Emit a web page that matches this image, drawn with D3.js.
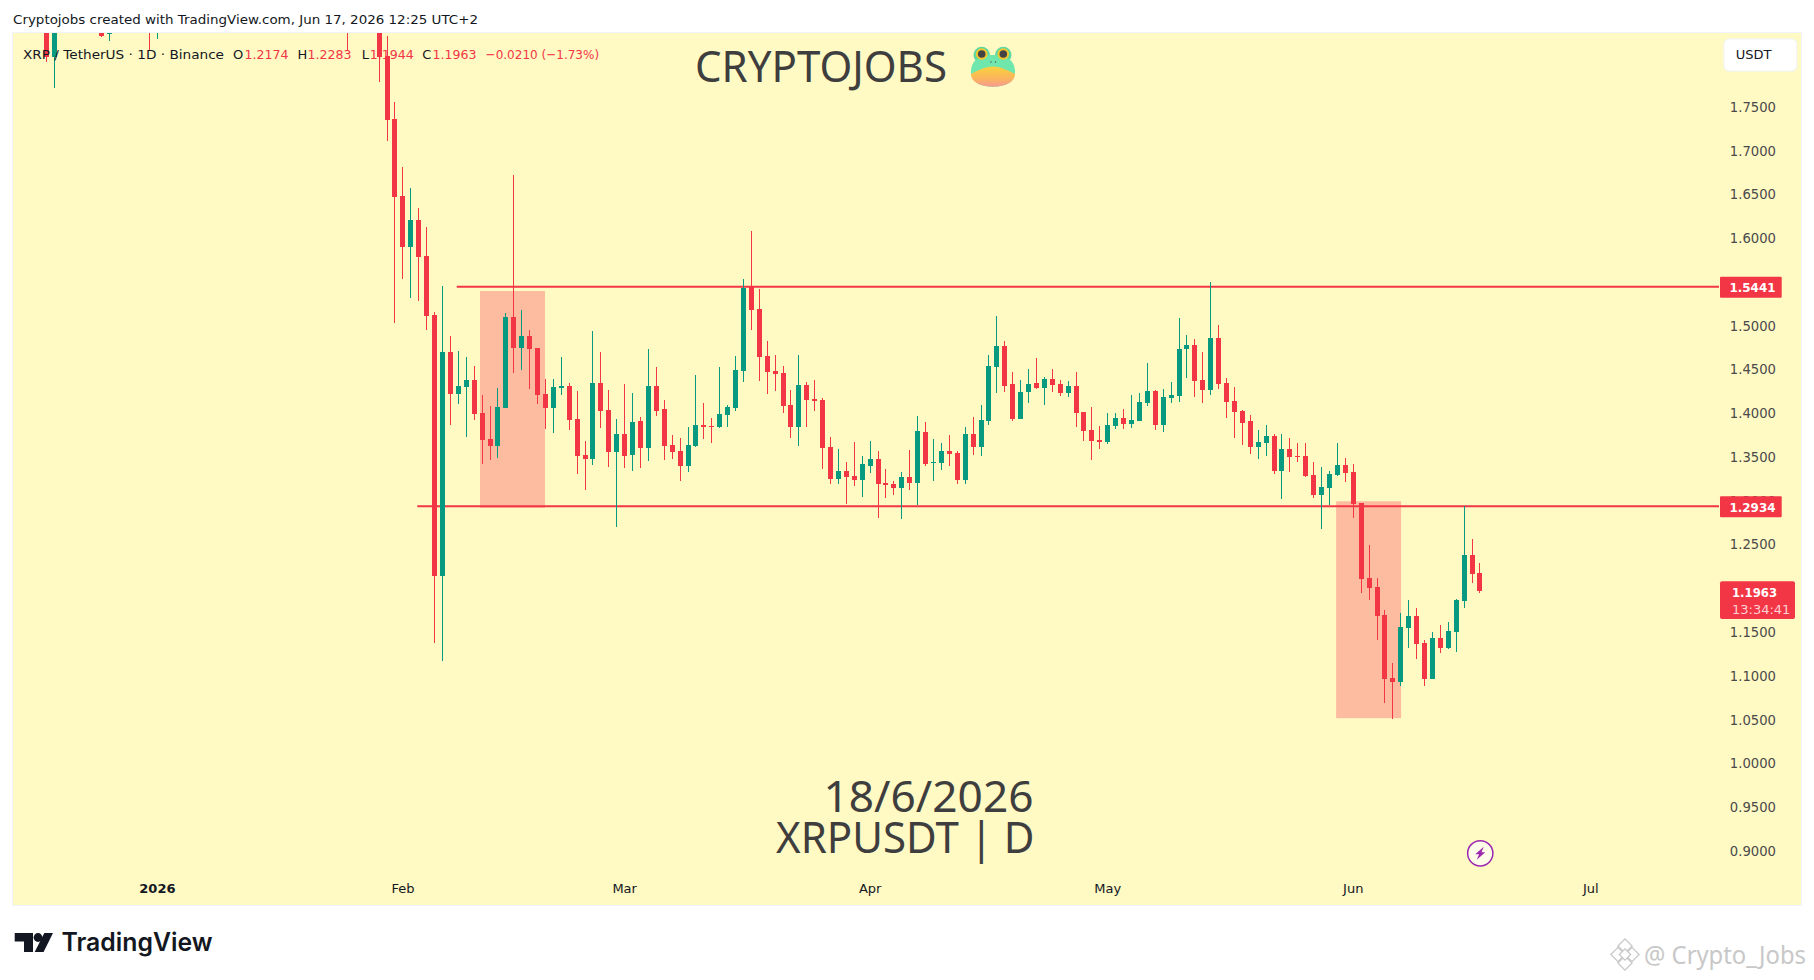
<!DOCTYPE html>
<html><head><meta charset="utf-8">
<script src="https://cdn.jsdelivr.net/npm/d3@7"></script>
<style>html,body{margin:0;padding:0;background:#fff;overflow:hidden}svg{display:block}text{font-family:"Noto Sans",sans-serif}</style>
</head><body><svg id="c" width="1814" height="980"></svg>
<script>
const earlyDays=[-45,-44,-38,-37,-32,-31,-7,-3,-2,-1];
const earlyOpen=[1.90,1.8070,1.8345,1.8326,1.87,1.84,1.88,1.90,1.8078,1.7358];
const earlyHigh=[1.92,1.90,1.84,1.86,1.88,1.87,1.89,1.92,1.83,1.7552];
const earlyLow=[1.8013,1.7712,1.8291,1.8253,1.8146,1.8272,1.8146,1.7784,1.7110,1.5030];
const earlyClose=[1.8070,1.88,1.8306,1.85,1.85,1.86,1.85,1.8070,1.7346,1.6470];

const openP=[1.6478,1.5899,1.6204,1.5792,1.5118,1.2134,1.4695,1.4215,1.4295,1.4375,
1.3998,1.3700,1.3620,1.4055,1.5095,1.4741,1.4878,1.4741,1.4215,1.4055,
1.4283,1.4306,1.3929,1.3517,1.3472,1.4341,1.4032,1.3552,1.3758,1.3517,
1.3906,1.3597,1.4306,1.4043,1.3632,1.3563,1.3392,1.3620,1.3860,1.3849,
1.3838,1.3975,1.4055,1.4478,1.5438,1.5186,1.4649,1.4478,1.4455,1.4089,
1.3838,1.4318,1.4158,1.4146,1.3609,1.3243,1.3335,1.3277,1.3232,1.3392,
1.3472,1.3197,1.3186,1.3140,1.3266,1.3197,1.3780,1.3426,1.3426,1.3563,
1.3540,1.3231,1.3757,1.3609,1.3906,1.4523,1.4763,1.4329,1.3929,1.4237,
1.4340,1.4283,1.4386,1.4329,1.4226,1.4306,1.4009,1.3803,1.3689,1.3666,
1.3849,1.3940,1.3872,1.3906,1.4112,1.4249,1.3860,1.4169,1.4192,1.4729,
1.4775,1.4375,1.4260,1.4855,1.4340,1.4135,1.4020,1.3906,1.3609,1.3654,
1.3734,1.3334,1.3586,1.3506,1.3506,1.3289,1.3060,1.3140,1.3289,1.3403,
1.3323,1.2968,1.2111,1.2008,1.1688,1.0968,1.0922,1.1539,1.1677,1.1368,
1.0956,1.1425,1.1311,1.1494,1.1848,1.2374,1.2174];
const highP=[1.6806,1.6570,1.6341,1.6124,1.5152,1.5449,1.4878,1.4706,1.4638,1.4535,
1.4203,1.4078,1.4283,1.5141,1.6718,1.5175,1.4946,1.4741,1.4386,1.4386,
1.4638,1.4341,1.4249,1.3678,1.4935,1.4695,1.4260,1.3929,1.4329,1.4226,
1.3952,1.4729,1.4523,1.4146,1.3746,1.3712,1.3838,1.4432,1.4112,1.3940,
1.4523,1.4089,1.4649,1.5529,1.6078,1.5415,1.4821,1.4661,1.4535,1.4260,
1.4661,1.4352,1.4375,1.4169,1.3723,1.3586,1.3437,1.3666,1.3506,1.3678,
1.3563,1.3357,1.3220,1.3323,1.3574,1.3963,1.3894,1.3700,1.3654,1.3746,
1.3563,1.3837,1.3952,1.4089,1.4660,1.5106,1.4820,1.4466,1.4375,1.4500,
1.4626,1.4409,1.4500,1.4375,1.4363,1.4466,1.4009,1.4066,1.3849,1.3997,
1.3997,1.4043,1.4203,1.4226,1.4569,1.4260,1.4272,1.4352,1.5083,1.4889,
1.4843,1.4695,1.5495,1.5003,1.4397,1.4295,1.4032,1.3974,1.3803,1.3860,
1.3757,1.3757,1.3712,1.3654,1.3654,1.3437,1.3380,1.3334,1.3654,1.3483,
1.3414,1.2968,1.2488,1.2111,1.1745,1.1139,1.1711,1.1859,1.1768,1.1402,
1.1494,1.1574,1.1608,1.1871,1.2934,1.2557,1.2283];
const lowP=[1.5529,1.5312,1.5278,1.4946,1.1368,1.1162,1.3860,1.4100,1.3723,1.3918,
1.3415,1.3460,1.3483,1.4055,1.4455,1.4489,1.4272,1.4100,1.3815,1.3769,
1.4203,1.3803,1.3300,1.3117,1.3403,1.3826,1.3380,1.2694,1.3369,1.3335,
1.3369,1.3449,1.3963,1.3460,1.3472,1.3220,1.3323,1.3609,1.3700,1.3655,
1.3826,1.3838,1.4020,1.4352,1.4946,1.4363,1.4215,1.4249,1.3998,1.3712,
1.3620,1.3838,1.4020,1.3357,1.3186,1.3186,1.2957,1.3163,1.3037,1.3312,
1.2797,1.3026,1.3060,1.2786,1.3117,1.2946,1.3392,1.3220,1.3346,1.3392,
1.3186,1.3186,1.3517,1.3506,1.3860,1.4226,1.4237,1.3906,1.3929,1.4112,
1.4272,1.4089,1.4237,1.4192,1.4180,1.3837,1.3677,1.3460,1.3586,1.3643,
1.3814,1.3814,1.3826,1.3906,1.4077,1.3803,1.3780,1.4112,1.4123,1.4397,
1.4180,1.4112,1.4203,1.4272,1.3940,1.3712,1.3632,1.3529,1.3472,1.3506,
1.3300,1.3014,1.3323,1.3437,1.3266,1.3026,1.2671,1.2946,1.3277,1.3209,
1.2797,1.1939,1.1859,1.1402,1.0682,1.0499,1.0876,1.1311,1.1185,1.0876,
1.0956,1.1254,1.1299,1.1265,1.1768,1.2054,1.1944];
const closeP=[1.5895,1.6204,1.5781,1.5110,1.2134,1.4695,1.4215,1.4306,1.4375,1.3986,
1.3689,1.3620,1.4066,1.5095,1.4741,1.4878,1.4729,1.4203,1.4055,1.4295,
1.4306,1.3918,1.3506,1.3472,1.4341,1.4020,1.3552,1.3758,1.3506,1.3895,
1.3597,1.4306,1.4020,1.3620,1.3552,1.3392,1.3632,1.3860,1.3838,1.3838,
1.3986,1.4066,1.4489,1.5426,1.5175,1.4638,1.4466,1.4443,1.4078,1.3838,
1.4318,1.4146,1.4135,1.3597,1.3243,1.3335,1.3266,1.3232,1.3415,1.3472,
1.3186,1.3175,1.3140,1.3266,1.3197,1.3792,1.3414,1.3437,1.3563,1.3529,
1.3231,1.3757,1.3609,1.3917,1.4535,1.4763,1.4306,1.3929,1.4237,1.4329,
1.4283,1.4386,1.4317,1.4226,1.4306,1.3997,1.3792,1.3677,1.3666,1.3860,
1.3940,1.3872,1.3917,1.4123,1.4249,1.3860,1.4180,1.4203,1.4729,1.4775,
1.4363,1.4260,1.4855,1.4329,1.4123,1.4009,1.3883,1.3609,1.3666,1.3734,
1.3334,1.3586,1.3494,1.3494,1.3277,1.3060,1.3151,1.3300,1.3403,1.3311,
1.2957,1.2099,1.1997,1.1677,1.0956,1.0922,1.1551,1.1677,1.1356,1.0956,
1.1425,1.1311,1.1505,1.1859,1.2374,1.2157,1.1963];

const priceTicks=[0.90,0.95,1.00,1.05,1.10,1.15,1.20,1.25,1.30,1.35,1.40,1.45,1.50,1.55,1.60,1.65,1.70,1.75];
const monthDays=[-31,0,28,59,89,120,150];
const monthLabels=["2026","Feb","Mar","Apr","May","Jun","Jul"];
const levels=[{p:1.5441,from:6.86,label:"1.5441"},{p:1.2934,from:1.88,label:"1.2934"}];
const zones=[{d0:9.8,d1:18,p0:1.5392,p1:1.2915},{d0:117.9,d1:126.1,p0:1.2991,p1:1.0514}];
const ohlcLegend=[["O","1.2174",233,244.4],["H","1.2283",297.4,307.6],["L","1.1944",361.8,369.7],["C","1.1963",422.3,432.6]];

const RED="#F23645",GREEN="#089981",BG="#FFF9C4",INK="#131722";
const L=13,R=1801,T=33,B=905,AXR=1719;
const days=earlyDays.concat(d3.range(openP.length));
const O=earlyOpen.concat(openP),H=earlyHigh.concat(highP),Lo=earlyLow.concat(lowP),C=earlyClose.concat(closeP);
const bars=days.map((d,i)=>({d,o:O[i],h:H[i],l:Lo[i],c:C[i]}));

const x=d3.scaleLinear().domain([-49.17,176.6]).range([L,R]);
const y=d3.scaleLinear().domain([1.75,0.90]).range([106.5,850.7]);
const svg=d3.select("#c");

svg.append("rect").attr("x",L-1).attr("y",T-1).attr("width",R-L+2).attr("height",B-T+2).attr("fill","#F0F3FA");
svg.append("rect").attr("x",L).attr("y",T).attr("width",R-L).attr("height",B-T).attr("fill",BG);
svg.append("defs").append("clipPath").attr("id","pane").append("rect").attr("x",L).attr("y",T).attr("width",R-L).attr("height",B-T);
const pane=svg.append("g").attr("clip-path","url(#pane)");

pane.selectAll("rect.zone").data(zones).join("rect").attr("class","zone")
 .attr("x",z=>x(z.d0)).attr("width",z=>x(z.d1)-x(z.d0))
 .attr("y",z=>y(z.p0)).attr("height",z=>y(z.p1)-y(z.p0)).attr("fill","#FDBBA0");

pane.selectAll("line.level").data(levels).join("line").attr("class","level")
 .attr("x1",l=>x(l.from)).attr("x2",AXR).attr("y1",l=>y(l.p)).attr("y2",l=>y(l.p))
 .attr("stroke",RED).attr("stroke-width",2);

const cx=d=>Math.round(x(d));
const g=pane.append("g").attr("shape-rendering","crispEdges");
g.selectAll("rect.wick").data(bars).join("rect").attr("class","wick")
 .attr("x",b=>cx(b.d)-0.5).attr("width",1)
 .attr("y",b=>y(b.h)).attr("height",b=>y(b.l)-y(b.h))
 .attr("fill",b=>b.c>=b.o?GREEN:RED);
g.selectAll("rect.body").data(bars).join("rect").attr("class","body")
 .attr("x",b=>cx(b.d)-2.5).attr("width",5)
 .attr("y",b=>y(Math.max(b.o,b.c))).attr("height",b=>Math.max(1,Math.abs(y(b.o)-y(b.c))))
 .attr("fill",b=>b.c>=b.o?GREEN:RED);

// price axis
const yAxis=d3.axisRight(y).tickValues(priceTicks).tickSize(0).tickPadding(0).tickFormat(d3.format(".4f"));
const ya=svg.append("g").attr("transform","translate(1776,0.5)").call(yAxis);
ya.select(".domain").remove();
ya.selectAll("text").attr("text-anchor","end").attr("fill","#4A4A4A").attr("font-size",13.2)
  .style("font-family","'DejaVu Sans'");

// time axis
const xAxis=d3.axisBottom(x).tickValues(monthDays).tickSize(0).tickPadding(0).tickFormat((d,i)=>monthLabels[i]);
const xa=svg.append("g").attr("transform","translate(0,884)").call(xAxis);
xa.select(".domain").remove();
xa.selectAll("text").attr("fill",INK).attr("font-size",13).style("font-family","'DejaVu Sans'")
  .style("font-weight",(d,i)=>i===0?700:400);

// level tags
levels.forEach(l=>{
  svg.append("rect").attr("x",1720).attr("y",y(l.p)-10).attr("width",61.7).attr("height",21).attr("fill",RED).attr("rx",1);
  svg.append("text").text(l.label).attr("x",1775.5).attr("y",y(l.p)+1).attr("dy","0.35em").attr("text-anchor","end")
   .attr("fill","#fff").attr("font-size",13).style("font-family","'DejaVu Sans'").style("font-weight",700)
   .attr("textLength",46).attr("lengthAdjust","spacingAndGlyphs");
});
// current price tag
const lastClose=closeP[closeP.length-1];
svg.append("rect").attr("x",1720).attr("y",581.3).attr("width",75).attr("height",37.7).attr("fill",RED).attr("rx",2);
svg.append("text").text(lastClose.toFixed(4)).attr("x",1732).attr("y",592.5).attr("dy","0.35em").attr("fill","#fff").attr("font-size",13).style("font-family","'DejaVu Sans'").style("font-weight",700).attr("textLength",45).attr("lengthAdjust","spacingAndGlyphs");
svg.append("text").text("13:34:41").attr("x",1732).attr("y",609.5).attr("dy","0.35em").attr("fill","#FFD0D4").attr("font-size",13).style("font-family","'DejaVu Sans'");

// currency button
svg.append("rect").attr("x",1724).attr("y",39).attr("width",72.7).attr("height",32).attr("rx",5).attr("fill","#fff").attr("stroke","#F0F3FA");
svg.append("text").text("USDT").attr("x",1735.7).attr("y",54.5).attr("dy","0.35em").attr("fill",INK).attr("font-size",13).style("font-family","'DejaVu Sans'");

// header
svg.append("text").text("Cryptojobs created with TradingView.com, Jun 17, 2026 12:25 UTC+2")
 .attr("x",13).attr("y",24).attr("fill",INK).attr("font-size",13).style("font-family","'DejaVu Sans'").attr("textLength",465).attr("lengthAdjust","spacingAndGlyphs");

// legend
svg.append("text").text("XRP / TetherUS · 1D · Binance").attr("x",23).attr("y",58.5).attr("fill",INK).attr("font-size",13).style("font-family","'DejaVu Sans'").attr("textLength",201).attr("lengthAdjust","spacingAndGlyphs");
ohlcLegend.forEach(([k,v,kx,vx])=>{
  svg.append("text").text(k).attr("x",kx).attr("y",58.5).attr("fill",INK).attr("font-size",13).style("font-family","'DejaVu Sans'");
  svg.append("text").text(v).attr("x",vx).attr("y",58.5).attr("fill",RED).attr("font-size",13).style("font-family","'DejaVu Sans'").attr("textLength",44).attr("lengthAdjust","spacingAndGlyphs");
});
svg.append("text").text("−0.0210 (−1.73%)").attr("x",485.6).attr("y",58.5).attr("fill",RED).attr("font-size",13).style("font-family","'DejaVu Sans'").attr("textLength",113.5).attr("lengthAdjust","spacingAndGlyphs");

// watermarks
const wm=(t,xx,yy,anchor,len)=>svg.append("text").text(t).attr("x",xx).attr("y",yy).attr("text-anchor",anchor)
 .attr("fill","#3E3E3E").attr("font-size",44).attr("textLength",len).attr("lengthAdjust","spacingAndGlyphs").style("font-family","'Noto Sans'");
wm("CRYPTOJOBS",695,81.7,"start",252);
wm("18/6/2026",1033.5,811.7,"end",210);
wm("XRPUSDT | D",1034.5,852.7,"end",258.5);

// frog
const frog=svg.append("g");
const grad=svg.select("defs").append("linearGradient").attr("id","belly").attr("x1",0).attr("y1",0).attr("x2",0).attr("y2",1);
grad.append("stop").attr("offset",0).attr("stop-color","#F8D23E");
grad.append("stop").attr("offset",0.6).attr("stop-color","#FBB45C");
grad.append("stop").attr("offset",1).attr("stop-color","#F59A94");
frog.append("circle").attr("cx",981.7).attr("cy",55).attr("r",8.2).attr("fill","#5ED8A0");
frog.append("circle").attr("cx",1003.3).attr("cy",55).attr("r",8.2).attr("fill","#5ED8A0");
frog.append("path").attr("d","M971 72 C971 60 980 55 993 55 C1006 55 1015 60 1015 72 C1015 82 1006 86.7 993 86.7 C980 86.7 971 82 971 72Z").attr("fill","#6EE6AC");
frog.append("path").attr("d","M971 74 C977 71 985 66.5 993 66.5 C1001 66.5 1009 71 1015 74 C1015 82 1006 86.7 993 86.7 C980 86.7 971 82 971 74Z").attr("fill","url(#belly)");
[981.7,1003.3].forEach(cxx=>{
  frog.append("circle").attr("cx",cxx).attr("cy",54).attr("r",5.8).attr("fill","#F6C62C");
  frog.append("circle").attr("cx",cxx).attr("cy",54).attr("r",3.8).attr("fill","#444");
});
frog.append("circle").attr("cx",991).attr("cy",62).attr("r",0.7).attr("fill","#555");
frog.append("circle").attr("cx",995.5).attr("cy",62).attr("r",0.7).attr("fill","#555");

// lightning marker
const bolt=svg.append("g").attr("transform",`translate(${x(136.1)},853.3)`);
bolt.append("circle").attr("r",12.6).attr("fill","#FFFDE8").attr("stroke","#9C27B0").attr("stroke-width",1.5);
bolt.append("path").attr("d","M3.5 -6.5 L-5 1 L-1.2 1 L-3.5 6.5 L5 -1 L1.2 -1Z").attr("fill","#9C27B0");

// TradingView logo
const tv=svg.append("g").attr("fill",INK);
tv.append("path").attr("d","M14.7 933 H33 V952 H24 V941.5 H14.7Z");
tv.append("circle").attr("cx",38).attr("cy",937.5).attr("r",4.4);
tv.append("path").attr("d","M44.3 933 H53 L43.6 952 H34.7Z");
svg.append("text").text("TradingView").attr("x",61.5).attr("y",950.7).attr("fill",INK).attr("font-size",25).attr("textLength",151).attr("lengthAdjust","spacingAndGlyphs").style("font-family","Inter").style("font-weight",600);

// Binance-style credit
const cr=svg.append("g").attr("fill","#fff").attr("stroke","#C8C8C8").attr("stroke-width",1.3);
[[1625,946,5],[1618,954.5,5],[1632,954.5,5],[1625,963,5],[1625,954.5,4]].forEach(([a,b,s])=>{
  cr.append("rect").attr("x",a-s).attr("y",b-s).attr("width",2*s).attr("height",2*s).attr("transform",`rotate(45 ${a} ${b})`);
});
svg.append("text").text("@ Crypto_Jobs").attr("x",1644).attr("y",964).attr("fill","#C8C8C8").attr("font-size",25).attr("textLength",162).attr("lengthAdjust","spacingAndGlyphs").style("font-family","'Noto Sans'");
</script></body></html>
